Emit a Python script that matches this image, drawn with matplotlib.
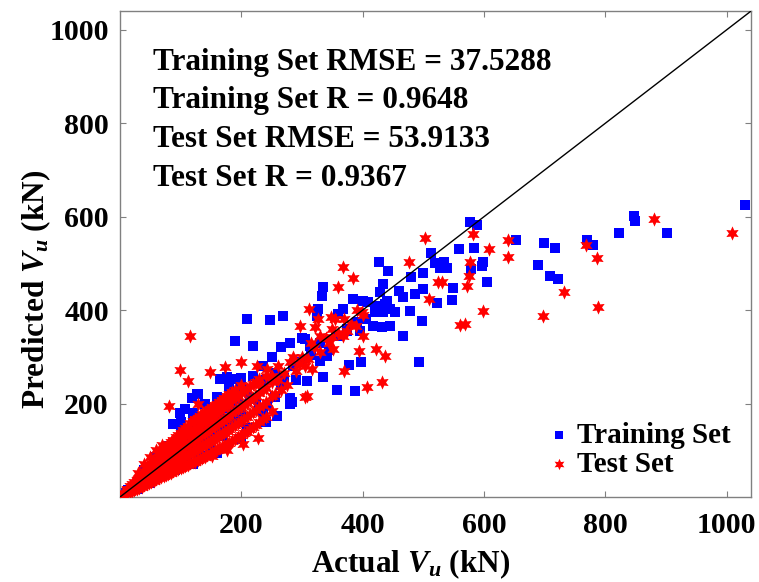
import numpy as np
import matplotlib
matplotlib.use('Agg')
import matplotlib.pyplot as plt

plt.rcParams['font.family'] = 'Liberation Serif'
plt.rcParams['font.weight'] = 'bold'
plt.rcParams['mathtext.fontset'] = 'custom'
plt.rcParams['mathtext.rm'] = 'Liberation Serif:bold'
plt.rcParams['mathtext.it'] = 'Liberation Serif:italic:bold'
plt.rcParams['mathtext.bf'] = 'Liberation Serif:bold'

# training set (actual, predicted) in kN
train_xy = np.array([
    # scattered points
    (1030, 626), (653, 551), (699, 543), (717, 532), (689, 496), (709, 472), (722, 466),
    (770, 549), (780, 540), (823, 566), (847, 602), (849, 591), (902, 566),
    (577, 589), (589, 583), (559, 530), (584, 532), (513, 523), (427, 504), (442, 483),
    (534, 504), (539, 491), (528, 491), (599, 502), (597, 494), (579, 487), (605, 460),
    (549, 447), (547, 421), (523, 415), (500, 445), (486, 434), (467, 428), (434, 455),
    (429, 438), (335, 449), (333, 430), (384, 423), (401, 419), (409, 417), (424, 409),
    (437, 413), (445, 402), (453, 396), (434, 396), (424, 396), (478, 398), (498, 377),
    (368, 402), (359, 391), (326, 402), (325, 387), (417, 366), (432, 364), (445, 366),
    (467, 345), (396, 355), (374, 355), (305, 338), (313, 323), (341, 302), (330, 291),
    (378, 283), (397, 289), (493, 289), (335, 257), (358, 228), (387, 226), (308, 249),
    (209, 381), (247, 379), (269, 387), (190, 334), (219, 323), (165, 253), (176, 257),
    (186, 253), (129, 221), (119, 211), (107, 189), (99, 179), (87, 157), (209, 147),
    (259, 174), (280, 211), (284, 204), (242, 196), (236, 183), (193, 172), (214, 211),
    # along the diagonal
    (210, 230), (225, 210), (240, 250), (255, 265), (270, 255), (285, 280), (300, 290),
    (315, 305), (330, 330), (345, 315), (360, 345), (375, 360), (390, 375), (405, 380),
    (420, 395), (440, 420), (460, 440), (480, 470), (500, 480), (520, 500), (250, 300),
    (265, 320), (280, 330), (300, 340), (235, 280), (220, 260), (200, 240), (190, 220),
    (132, 87), (127, 221), (150, 110), (170, 130), (195, 160), (230, 190), (255, 215),
    (100, 160), (120, 180), (140, 200), (160, 215), (180, 235), (200, 255),
    (120, 70), (160, 95), (200, 125), (240, 160), (280, 200), (265, 240), (290, 250),
    # dense cluster
    (6, 5), (10, 9), (14, 15), (18, 14), (22, 22), (26, 20), (30, 32), (34, 28), (38, 40),
    (42, 35), (46, 50), (50, 44), (55, 60), (60, 52), (65, 70), (70, 60), (75, 82),
    (80, 68), (85, 95), (90, 76), (95, 105), (100, 85), (105, 118), (110, 95), (115, 130),
    (120, 102), (125, 140), (130, 112), (135, 150), (140, 120), (145, 160), (150, 130),
    (155, 170), (160, 140), (165, 180), (170, 150), (175, 190), (180, 160), (185, 200),
    (190, 170), (195, 210), (200, 180), (30, 18), (50, 30), (70, 44), (90, 58), (110, 72),
    (130, 90), (150, 100), (40, 58), (60, 85), (80, 110), (100, 140), (120, 160),
])

# test set (actual, predicted) in kN
test_xy = np.array([
    # scattered points
    (640, 549), (640, 513), (768, 540), (786, 511), (732, 438), (697, 387), (788, 406),
    (880, 596), (1009, 564),
    (503, 555), (582, 562), (608, 530), (477, 504), (577, 502), (368, 492), (384, 468),
    (575, 472), (572, 451), (524, 460), (531, 460), (359, 449), (510, 423), (599, 398),
    (561, 368), (569, 370), (312, 402), (348, 385), (326, 381), (322, 364), (399, 396),
    (389, 366), (401, 345), (368, 345), (350, 343), (351, 317), (394, 313), (422, 317),
    (437, 302), (369, 270), (317, 274), (407, 236), (432, 247), (308, 217), (297, 366),
    (115, 345), (99, 272), (112, 249), (148, 268), (173, 279), (200, 289), (81, 194),
    (129, 200), (203, 113), (228, 126), (176, 100), (152, 87), (305, 215), (226, 281),
    (242, 274),
    # along the diagonal
    (260, 250), (270, 265), (280, 290), (290, 270), (300, 300), (310, 295), (320, 320),
    (330, 310), (340, 340), (260, 280), (275, 240), (285, 300), (295, 285), (250, 260),
    (265, 230), (305, 280), (315, 330), (330, 345), (345, 330), (350, 360), (360, 350),
    (370, 380), (380, 370), (390, 400), (400, 390), (355, 380), (375, 355), (240, 260),
    (230, 240), (255, 220),
    # dense wedge near the origin, column by column
    (5, 4), (5, 8), (12, 8), (12, 14), (12, 18), (20, 12), (20, 20), (20, 28),
    (28, 18), (28, 27), (28, 36), (36, 22), (36, 33), (36, 44), (36, 50),
    (44, 27), (44, 40), (44, 52), (44, 60), (52, 32), (52, 46), (52, 60), (52, 72),
    (60, 38), (60, 52), (60, 66), (60, 80), (68, 42), (68, 58), (68, 74), (68, 90), (68, 98),
    (76, 47), (76, 64), (76, 82), (76, 98), (76, 108), (84, 52), (84, 70), (84, 88),
    (84, 106), (84, 118), (92, 58), (92, 76), (92, 95), (92, 114), (92, 128),
    (100, 62), (100, 82), (100, 102), (100, 122), (100, 138), (108, 66), (108, 88),
    (108, 110), (108, 130), (108, 148), (116, 72), (116, 94), (116, 116), (116, 138),
    (116, 158), (124, 76), (124, 100), (124, 124), (124, 146), (124, 166),
    (132, 82), (132, 106), (132, 130), (132, 154), (132, 174), (140, 86), (140, 112),
    (140, 138), (140, 162), (140, 182), (148, 92), (148, 118), (148, 146), (148, 170),
    (148, 188), (156, 98), (156, 124), (156, 152), (156, 178), (156, 196),
    (164, 104), (164, 132), (164, 160), (164, 186), (164, 204), (172, 110), (172, 138),
    (172, 166), (172, 194), (172, 212), (180, 116), (180, 146), (180, 174), (180, 202),
    (180, 220), (190, 124), (190, 154), (190, 184), (190, 212), (190, 230),
    (200, 132), (200, 162), (200, 192), (200, 222), (200, 240), (210, 140), (210, 172),
    (210, 202), (210, 232), (220, 150), (220, 182), (220, 212), (220, 242),
    (230, 160), (230, 192), (230, 222), (230, 252), (240, 172), (240, 204), (240, 234),
    (250, 184), (250, 216), (250, 246),
    (40, 70), (50, 85), (60, 100), (70, 112), (30, 52),
    # in-between fill of the wedge
    (16, 11), (16, 17), (16, 23), (24, 16), (24, 24), (24, 32), (32, 20), (32, 30),
    (32, 40), (40, 25), (40, 36), (40, 48), (40, 56), (48, 30), (48, 43), (48, 56),
    (48, 66), (56, 35), (56, 49), (56, 63), (56, 76), (64, 40), (64, 55), (64, 70),
    (64, 85), (72, 45), (72, 61), (72, 78), (72, 94), (80, 50), (80, 67), (80, 85),
    (80, 102), (80, 113), (88, 55), (88, 73), (88, 92), (88, 110), (88, 123),
    (96, 60), (96, 79), (96, 98), (96, 118), (96, 133), (104, 64), (104, 85), (104, 106),
    (104, 126), (104, 143), (112, 69), (112, 91), (112, 113), (112, 134), (112, 153),
    (120, 74), (120, 97), (120, 120), (120, 142), (120, 162), (128, 79), (128, 103),
    (128, 127), (128, 150), (128, 170), (136, 84), (136, 109), (136, 134), (136, 158),
    (136, 178), (144, 89), (144, 115), (144, 142), (144, 166), (144, 186),
    (152, 95), (152, 121), (152, 149), (152, 174), (152, 193), (160, 101), (160, 128),
    (160, 156), (160, 182), (160, 200), (168, 107), (168, 135), (168, 163), (168, 190),
    (168, 208), (176, 113), (176, 142), (176, 170), (176, 198), (176, 216),
    (185, 120), (185, 150), (185, 179), (185, 207), (185, 225), (195, 128), (195, 158),
    (195, 188), (195, 217), (205, 136), (205, 167), (205, 197), (205, 227),
    (215, 145), (215, 177), (215, 207), (215, 237), (225, 155), (225, 187), (225, 217),
    (225, 247), (235, 166), (235, 198), (235, 228),
])

stats = ['Training Set RMSE = 37.5288', 'Training Set R = 0.9648',
         'Test Set RMSE = 53.9133', 'Test Set R = 0.9367']
lim = 1040

fig = plt.figure(figsize=(7.59, 5.82), dpi=100)
ax = fig.add_axes([0.158, 0.146, 0.8315, 0.835])

ax.scatter(train_xy[:, 0], train_xy[:, 1], marker='s', s=58, color='#0000ff',
           linewidths=0, label='Training Set', zorder=2)
ax.scatter(test_xy[:, 0], test_xy[:, 1], marker=(6, 1, 0), s=105, color='#ff0000',
           linewidths=0, label='Test Set', zorder=3)
ax.plot([0, lim], [0, lim], color='black', lw=1, zorder=4)

ax.set_xlim(0, lim)
ax.set_ylim(0, lim)
ax.set_xticks([200, 400, 600, 800, 1000])
ax.set_yticks([200, 400, 600, 800, 1000])
ax.tick_params(direction='in', top=True, right=True, labelsize=21.5, color='0.5',
               length=4, width=0.8)
ax.tick_params(axis='x', pad=11)
ax.tick_params(axis='y', pad=8)
for sp in ax.spines.values():
    sp.set_color('0.5')
    sp.set_linewidth(1)

ax.set_xlabel(r'Actual $V_u$ (kN)', fontsize=22.5, fontweight='bold')
ax.set_ylabel(r'Predicted $V_u$ (kN)', fontsize=22.5, fontweight='bold')
ax.xaxis.set_label_coords(0.461, -0.104)
ax.yaxis.set_label_coords(-0.106, 0.428)

for i, s in enumerate(stats):
    ax.text(0.052, 0.895 - i * 0.08, s, transform=ax.transAxes, fontsize=22.5,
            fontweight='bold', va='center', ha='left')

ax.legend(loc='lower right', bbox_to_anchor=(0.986, 0.016), frameon=False,
          fontsize=21, handlelength=0.8, handletextpad=0.2, borderaxespad=0,
          labelspacing=0.05, markerscale=0.8)

fig.savefig('out.png', dpi=100)
